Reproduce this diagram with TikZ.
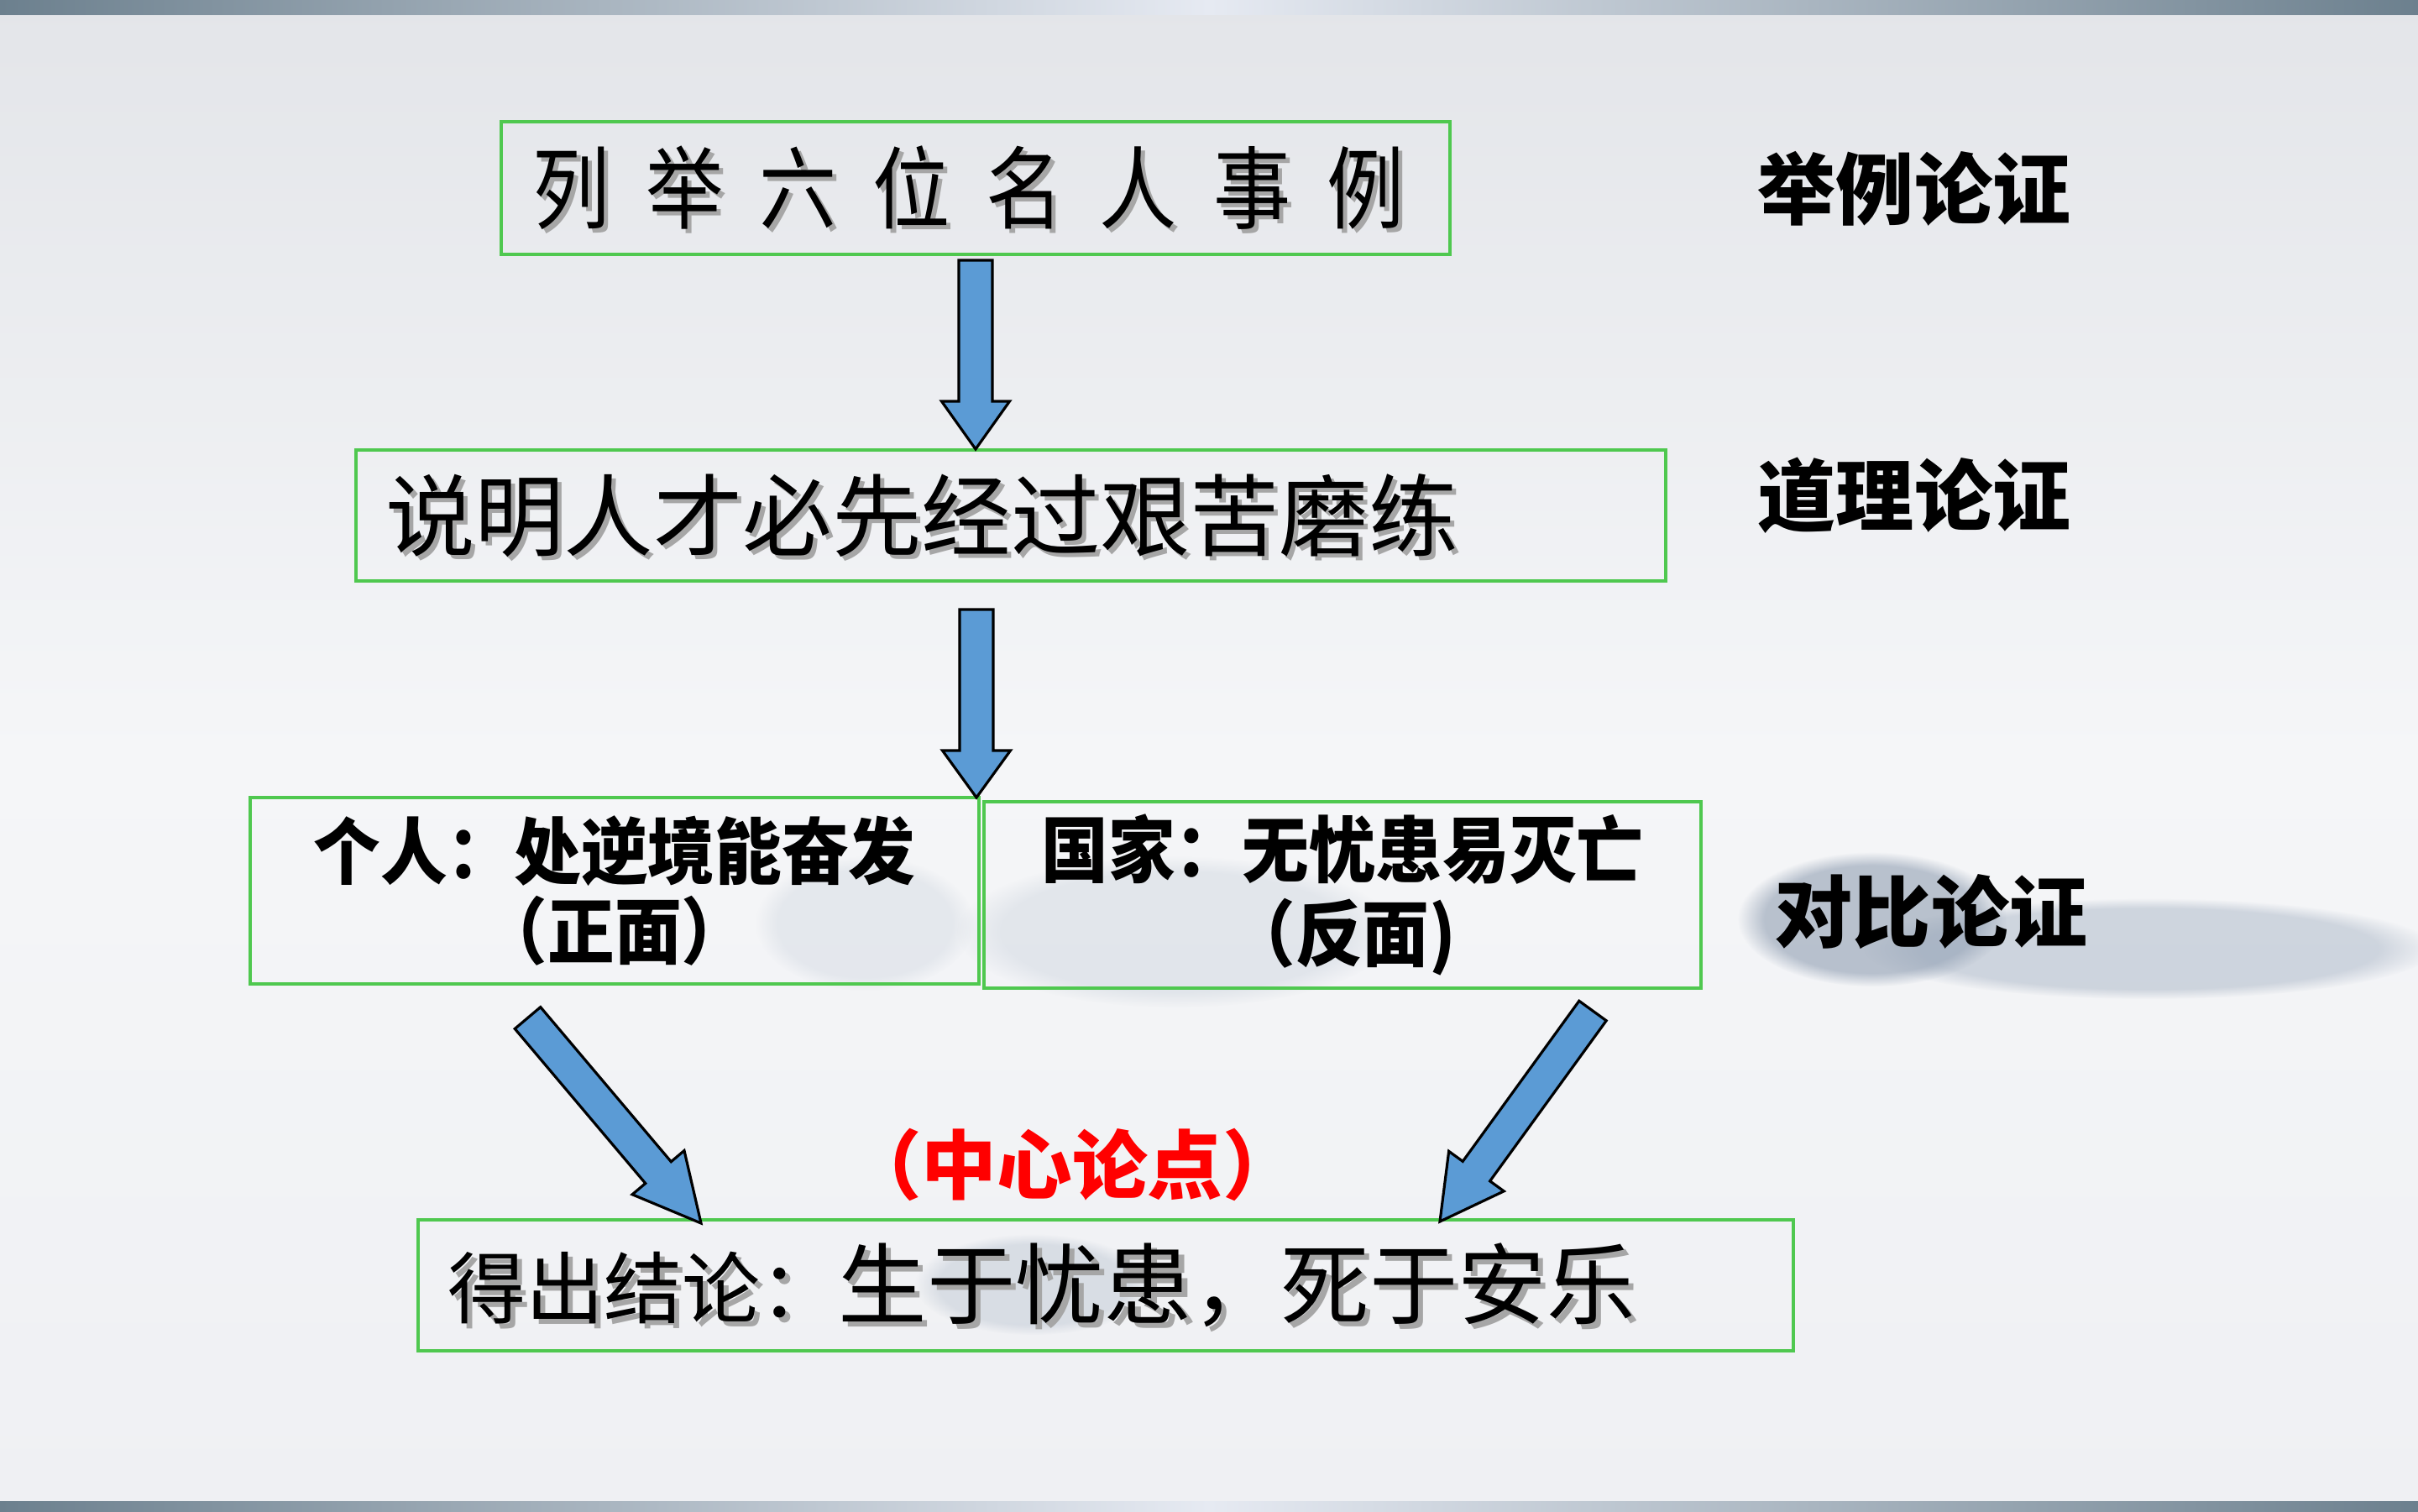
\documentclass[tikz,border=0pt]{standalone}
\usepackage{graphicx}
\usepackage{fontspec}
\newfontfamily\cjk{Noto Sans CJK SC}
\usetikzlibrary{calc,fadings}
\definecolor{bxgreen}{HTML}{4FC84F}
\definecolor{arrblue}{HTML}{5B9BD5}
\definecolor{barc}{HTML}{6C808E}
\definecolor{barl}{HTML}{E6EAF2}
\definecolor{bgtop}{HTML}{E3E5E9}
\definecolor{bgmid}{HTML}{F5F6F8}
\definecolor{bgbot}{HTML}{EFF0F3}
\definecolor{mtnA}{RGB}{125,142,165}
\definecolor{mtnB}{RGB}{150,165,185}
\definecolor{mtnC}{RGB}{175,188,203}
\definecolor{mtnD}{RGB}{160,174,192}
\newcommand\shd[2][0.05cm]{\makebox[0pt][l]{\raisebox{-#1}[0pt][0pt]{\hspace{#1}\textcolor{black!35}{#2}}}#2}
\newcommand\sx[2]{\scalebox{#1}[1]{#2}}
\newcommand\blockarrow[3]{%
  \coordinate (hb) at ($(#2)!#3!(#1)$);
  \draw[blockarr] ($(#1)!0.2cm!90:(#2)$) -- ($(hb)!0.2cm!90:(#2)$) -- ($(hb)!0.405cm!90:(#2)$) -- (#2) -- ($(hb)!0.405cm!-90:(#2)$) -- ($(hb)!0.2cm!-90:(#2)$) -- ($(#1)!0.2cm!-90:(#2)$) -- cycle;
}
\begin{document}
\begin{tikzpicture}[
  box/.style={draw=bxgreen, line width=1pt, rectangle, inner ysep=0pt},
  blockarr/.style={fill=arrblue, draw=black, line width=0.9pt, line join=miter},
  side/.style={font=\cjk\bfseries\fontsize{26.5}{30}\selectfont, inner sep=0pt},
  blob/.style={path fading=circle with fuzzy edge 20 percent},
]
\useasboundingbox (0,0) rectangle (28.8,18);
% background
\shade[top color=bgtop, bottom color=bgbot, middle color=bgmid] (0,0) rectangle (28.8,18);
\fill[blob, color=mtnA, fill opacity=0.5] (22.3,7.05) ellipse (1.6 and 0.8);
\fill[blob, color=mtnB, fill opacity=0.4] (25.6,6.7) ellipse (3.4 and 0.6);
\fill[blob, color=mtnC, fill opacity=0.25] (14.0,6.9) ellipse (2.6 and 0.9);
\fill[blob, color=mtnC, fill opacity=0.22] (10.3,7.0) ellipse (1.3 and 0.8);
\fill[blob, color=mtnD, fill opacity=0.3] (12.3,2.7) ellipse (1.4 and 0.6);
\shade[left color=barc, right color=barc, middle color=barl] (0,17.82) rectangle (28.8,18);
\shade[left color=barc, right color=barc, middle color=barl] (0,0) rectangle (28.8,0.12);

% boxes
\node[box, minimum width=11.30cm, minimum height=1.58cm, text width=10.56cm, inner xsep=0.37cm, align=left,
      font=\cjk\fontsize{30.5}{36}\selectfont] (b1) at (11.62,15.76)
  {\shd{\sx{0.86}{列\hspace{0.5cm}举\hspace{0.5cm}六\hspace{0.5cm}位\hspace{0.5cm}名\hspace{0.5cm}人\hspace{0.5cm}事\hspace{0.5cm}例}}};
\node[box, minimum width=15.60cm, minimum height=1.56cm, text width=14.90cm, inner xsep=0.35cm, align=left,
      font=\cjk\fontsize{30.3}{36}\selectfont] (b2) at (12.04,11.86)
  {\shd{说明人才必先经过艰苦磨练}};
\node[box, minimum width=8.68cm, minimum height=2.22cm, text width=8.28cm, inner xsep=0.2cm, align=center,
      font=\cjk\bfseries\fontsize{24.5}{27}\selectfont] (b3) at (7.32,7.39)
  {\sx{0.925}{个人：处逆境能奋发}\\\sx{0.925}{（正面）}};
\node[box, minimum width=8.54cm, minimum height=2.22cm, text width=8.14cm, inner xsep=0.2cm, align=center,
      font=\cjk\bfseries\fontsize{24.5}{28.4}\selectfont] (b4) at (15.99,7.34)
  {\sx{0.925}{国家：无忧患易灭亡}\\\sx{0.925}{（反面)}};
\node[box, minimum width=16.38cm, minimum height=1.56cm, text width=15.68cm, inner xsep=0.35cm, align=left,
      font=\cjk] (b5) at (13.17,2.69)
  {\shd[0.06cm]{{\fontsize{26.5}{30}\selectfont 得出结论：}{\fontsize{30}{34}\selectfont 生于忧患，死于安乐}}};

% labels
\node[side] (l1) at (22.80,15.75) {举例论证};
\node[side] (l2) at (22.80,12.10) {道理论证};
\node[side] (l3) at (23.00,7.14) {对比论证};
\node[font=\cjk\bfseries\fontsize{25.5}{29}\selectfont, text=red, inner sep=0pt] (zx) at (12.77,4.13) {（中心论点）};

% arrows
\coordinate (a1s) at (11.62,14.90);
\coordinate (a1e) at (11.62,12.65);
\coordinate (a2s) at (11.63,10.74);
\coordinate (a2e) at (11.63,8.50);
\coordinate (a3s) at (6.285,5.875);
\coordinate (a3e) at (8.35,3.43);
\coordinate (a4s) at (18.97,5.96);
\coordinate (a4e) at (17.15,3.45);
\blockarrow{a1s}{a1e}{0.57cm}
\blockarrow{a2s}{a2e}{0.56cm}
\blockarrow{a3s}{a3e}{0.79cm}
\blockarrow{a4s}{a4e}{0.74cm}
\end{tikzpicture}
\end{document}
